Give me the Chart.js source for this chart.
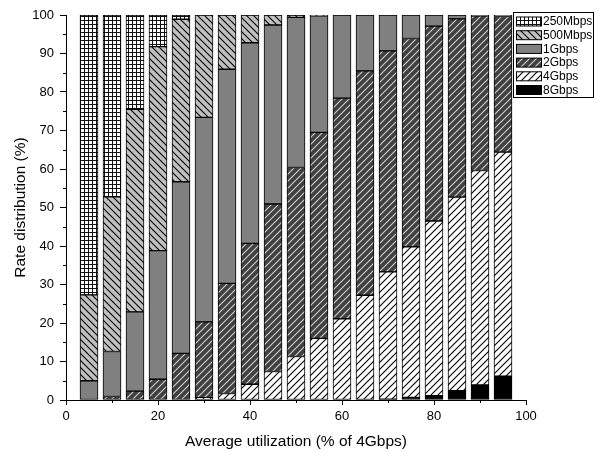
<!DOCTYPE html>
<html>
<head>
<meta charset="utf-8">
<script src="https://cdn.jsdelivr.net/npm/chart.js@4.4.1/dist/chart.umd.min.js"></script>
<style>
  body { margin: 0; background: #fff; }
  #wrap { width: 596px; height: 452px; }
</style>
</head>
<body>
<div id="wrap"><canvas id="c" width="596" height="452"></canvas></div>
<script>
// Rate distribution per utilization level
const utilization = [5, 10, 15, 20, 25, 30, 35, 40, 45, 50, 55, 60, 65, 70, 75, 80, 85, 90, 95];
const rate8G   = [0, 0, 0, 0, 0, 0, 0, 0, 0, 0, 0, 0, 0, 0.2, 0.7, 1.1, 2.4, 3.9, 6.2];
const rate4G   = [0, 0, 0, 0, 0, 0.6, 1.7, 4.1, 7.4, 11.3, 16.0, 21.1, 27.2, 33.1, 39.1, 45.4, 50.3, 55.7, 58.2];
const rate2G   = [0, 0.9, 2.3, 5.4, 12.1, 19.7, 28.6, 36.6, 43.5, 49.1, 53.5, 57.3, 58.3, 57.4, 54.1, 50.6, 46.3, 40.2, 35.2];
const rate1G   = [5.0, 11.7, 20.6, 33.4, 44.6, 53.1, 55.6, 52.1, 46.5, 39.0, 30.3, 21.6, 14.5, 9.3, 6.1, 2.9, 1.0, 0.2, 0.4];
const rate500M = [22.3, 40.2, 52.6, 53.0, 42.2, 26.6, 14.1, 7.2, 2.6, 0.6, 0.2, 0, 0, 0, 0, 0, 0, 0, 0];
const rate250M = [72.7, 47.2, 24.5, 8.2, 1.1, 0, 0, 0, 0, 0, 0, 0, 0, 0, 0, 0, 0, 0, 0];

const FONT = "'Liberation Sans', Arial, sans-serif";

function tile(size, draw) {
  const c = document.createElement('canvas');
  c.width = c.height = size;
  const g = c.getContext('2d');
  draw(g, size);
  return g.createPattern(c, 'repeat');
}

function hatch(bg, fg, dir, size) {
  return tile(size, (g, s) => {
    g.fillStyle = bg; g.fillRect(0, 0, s, s);
    g.strokeStyle = fg; g.lineWidth = 1.1;
    g.beginPath();
    if (dir === '/') {
      g.moveTo(0, s); g.lineTo(s, 0);
      g.moveTo(-1, 1); g.lineTo(1, -1);
      g.moveTo(s - 1, s + 1); g.lineTo(s + 1, s - 1);
    } else {
      g.moveTo(0, 0); g.lineTo(s, s);
      g.moveTo(s - 1, -1); g.lineTo(s + 1, 1);
      g.moveTo(-1, s - 1); g.lineTo(1, s + 1);
    }
    g.stroke();
  });
}

const gridFill = tile(4, (g, s) => {
  g.fillStyle = '#fff'; g.fillRect(0, 0, s, s);
  g.fillStyle = '#111';
  g.fillRect(0, 0, s, 1);
  g.fillRect(0, 0, 1, s);
});

const series = [
  { label: '8Gbps',   data: rate8G,   fill: '#000' },
  { label: '4Gbps',   data: rate4G,   fill: hatch('#fff', '#000', '/', 7) },
  { label: '2Gbps',   data: rate2G,   fill: hatch('#404040', '#d0d0d0', '/', 7) },
  { label: '1Gbps',   data: rate1G,   fill: '#808080' },
  { label: '500Mbps', data: rate500M, fill: hatch('#c0c0c0', '#000', '\\', 7) },
  { label: '250Mbps', data: rate250M, fill: gridFill },
];

// short minor ticks (major ones come from the grid)
const minorTicks = {
  id: 'minorTicks',
  afterDraw(chart) {
    const ctx = chart.ctx;
    const { x, y } = chart.scales;
    ctx.save();
    ctx.strokeStyle = '#000';
    ctx.lineWidth = 1;
    ctx.beginPath();
    for (let v = 5; v < 100; v += 10) {
      const py = Math.round(y.getPixelForValue(v)) + 0.5;
      ctx.moveTo(y.right - 3, py); ctx.lineTo(y.right, py);
    }
    for (let v = 10; v < 100; v += 20) {
      const px = Math.round(x.getPixelForValue(v)) + 0.5;
      ctx.moveTo(px, x.top); ctx.lineTo(px, x.top + 3);
    }
    ctx.stroke();
    ctx.restore();
  }
};

// legend box drawn inside the plot, top right
const boxLegend = {
  id: 'boxLegend',
  afterDraw(chart) {
    const ctx = chart.ctx;
    const x0 = 513.5, y0 = 12.5, w = 80, h = 85, row = 13.7;
    ctx.save();
    ctx.fillStyle = '#fff';
    ctx.fillRect(x0, y0, w, h);
    ctx.strokeStyle = '#000';
    ctx.lineWidth = 1;
    ctx.strokeRect(x0, y0, w, h);
    ctx.font = '12px ' + FONT;
    ctx.textBaseline = 'middle';
    const items = chart.data.datasets.slice().reverse();
    items.forEach((ds, i) => {
      const cy = y0 + 9 + i * row;
      ctx.fillStyle = ds.backgroundColor;
      ctx.fillRect(516.5, cy - 4.5, 25, 9);
      ctx.strokeRect(516.5, cy - 4.5, 25, 9);
      ctx.fillStyle = '#000';
      ctx.fillText(ds.label, 543, cy + 0.5);
    });
    ctx.restore();
  }
};

const majorColor = c => (c.tick && c.tick.value % (c.scale.axis === 'x' ? 20 : 10) === 0 ? '#000' : 'rgba(0,0,0,0)');

new Chart(document.getElementById('c'), {
  type: 'bar',
  data: {
    datasets: series.map(s => ({
      label: s.label,
      data: utilization.map((u, i) => ({ x: u, y: s.data[i] })),
      backgroundColor: s.fill,
      borderColor: '#000',
      borderWidth: 1,
      borderSkipped: false,
      barThickness: 18,
    }))
  },
  options: {
    responsive: false,
    animation: false,
    layout: { padding: { top: 15, right: 70, left: 0, bottom: 0 } },
    plugins: { legend: { display: false }, tooltip: { enabled: false } },
    scales: {
      x: {
        type: 'linear',
        stacked: true,
        offset: false,
        min: 0, max: 100,
        afterFit: s => { s.height = 52; },
        grid: { offset: false, drawOnChartArea: false, drawTicks: true, tickLength: 5, tickColor: majorColor, color: '#000' },
        border: { color: '#000', width: 1 },
        ticks: {
          stepSize: 10, autoSkip: false, maxRotation: 0, color: '#000', padding: 4,
          font: { family: FONT, size: 13 },
          callback: v => (v % 20 === 0 ? v : '')
        },
        title: {
          display: true, text: 'Average utilization (% of 4Gbps)', color: '#000',
          font: { family: FONT, size: 15.5 }, padding: { top: 2, bottom: 1 }
        }
      },
      y: {
        stacked: true,
        min: 0, max: 100,
        afterFit: s => { s.width = 66; },
        grid: { drawOnChartArea: false, drawTicks: true, tickLength: 6, tickColor: majorColor, color: '#000' },
        border: { color: '#000', width: 1 },
        ticks: {
          stepSize: 5, autoSkip: false, color: '#000', padding: 6,
          font: { family: FONT, size: 13 },
          callback: v => (v % 10 === 0 ? v : '')
        },
        title: {
          display: true, text: 'Rate distribution (%)', color: '#000',
          font: { family: FONT, size: 15.5 }, padding: { top: 11, bottom: 0 }
        }
      }
    }
  },
  plugins: [minorTicks, boxLegend]
});
</script>
</body>
</html>
